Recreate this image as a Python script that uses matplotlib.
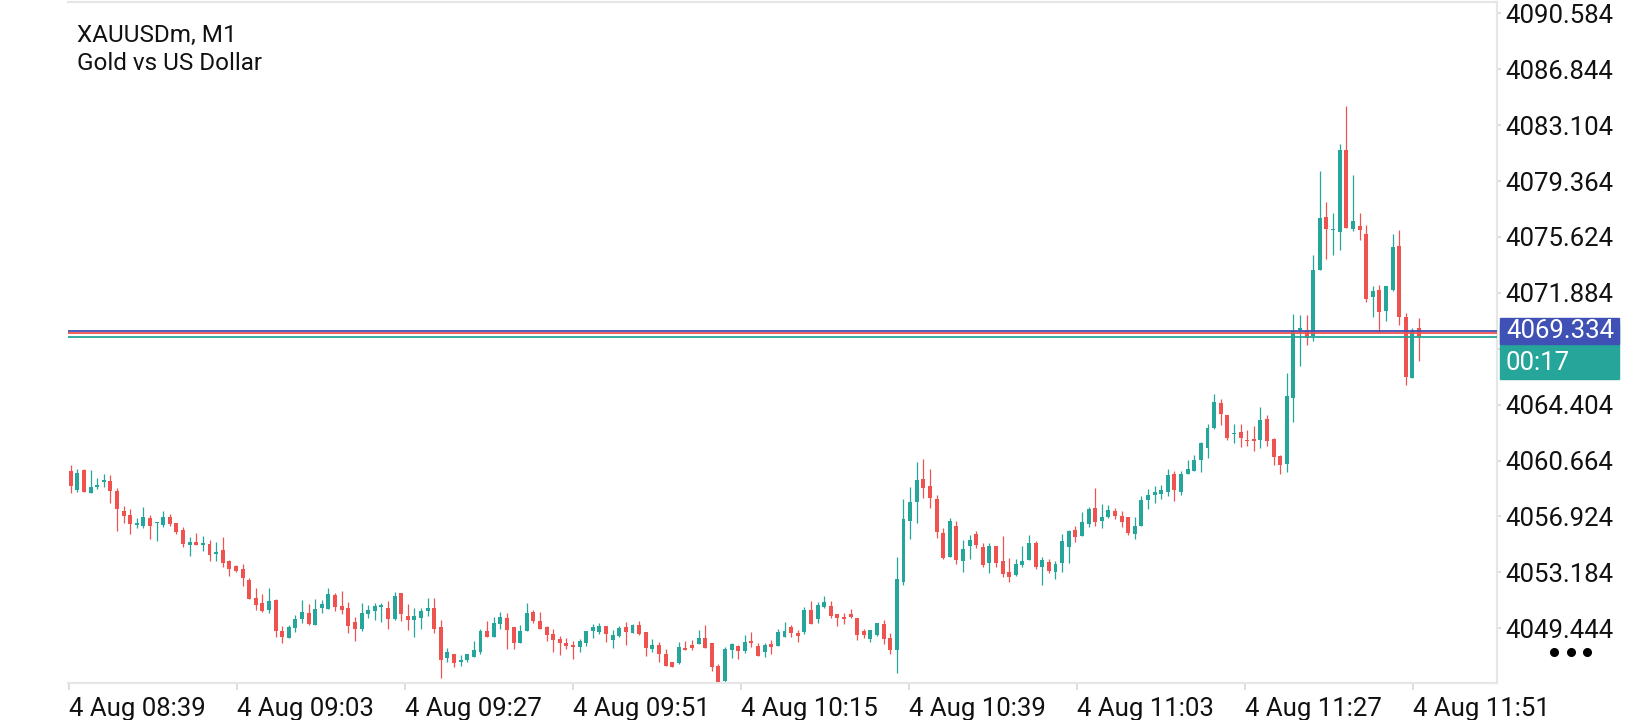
import numpy as np
import matplotlib.pyplot as plt
from matplotlib.patches import Rectangle
from matplotlib.lines import Line2D

plt.rcParams['font.family'] = ['Roboto', 'DejaVu Sans']

# XAUUSDm M1 candles (oldest first)
opens = [4059.98, 4058.69, 4060.03, 4058.51, 4058.91, 4059.24, 4059.29, 4058.62, 4057.28, 4057.02,
         4056.37, 4056.28, 4056.82, 4056.46, 4056.37, 4056.86, 4056.48, 4056.01, 4055.03, 4055.21,
         4055.03, 4055.08, 4054.43, 4054.67, 4053.96, 4053.60, 4053.40, 4052.67, 4051.46, 4051.13,
         4050.66, 4051.33, 4049.26, 4048.82, 4049.48, 4050.08, 4050.46, 4049.68, 4050.82, 4050.75,
         4051.69, 4050.91, 4050.79, 4049.86, 4049.37, 4050.42, 4050.59, 4050.88, 4050.79, 4050.04,
         4051.80, 4050.26, 4049.99, 4050.15, 4050.61, 4050.79, 4049.52, 4047.47, 4047.72, 4047.16,
         4047.29, 4047.49, 4047.87, 4049.26, 4048.88, 4049.75, 4050.10, 4049.50, 4048.48, 4049.28,
         4050.53, 4049.93, 4049.52, 4049.06, 4048.72, 4048.45, 4048.30, 4048.21, 4048.48, 4049.26,
         4049.19, 4049.59, 4048.65, 4048.94, 4049.52, 4049.14, 4049.66, 4049.19, 4048.07, 4048.32,
         4047.72, 4047.16, 4047.14, 4048.12, 4048.30, 4048.41, 4048.77, 4048.43, 4046.89, 4045.91,
         4048.01, 4048.23, 4047.94, 4048.61, 4048.25, 4047.87, 4048.39, 4048.28, 4048.88, 4049.52,
         4049.12, 4049.19, 4050.64, 4050.06, 4050.84, 4050.93, 4050.37, 4050.17, 4050.39, 4050.10,
         4049.26, 4048.74, 4048.99, 4049.70, 4048.80, 4048.00, 4052.56, 4056.64, 4057.91, 4059.43,
         4058.96, 4058.09, 4055.82, 4054.23, 4056.31, 4053.97, 4054.97, 4055.75, 4054.88, 4053.83,
         4054.95, 4053.94, 4053.21, 4053.01, 4053.70, 4054.03, 4055.17, 4053.56, 4053.88, 4053.23,
         4053.83, 4054.90, 4056.02, 4055.64, 4056.42, 4057.51, 4056.64, 4056.91, 4057.29, 4056.95,
         4056.89, 4055.77, 4056.31, 4058.05, 4058.38, 4058.45, 4058.58, 4059.76, 4058.56, 4059.79,
         4059.99, 4060.72, 4061.53, 4062.84, 4064.51, 4063.71, 4062.46, 4062.57, 4062.04, 4062.11,
         4062.04, 4063.44, 4062.11, 4060.97, 4060.46, 4064.87, 4069.42, 4069.40, 4069.00, 4073.41,
         4076.96, 4076.11, 4075.98, 4081.44, 4076.18, 4076.36, 4075.82, 4071.63, 4072.07, 4070.69,
         4072.07, 4075.02, 4070.24, 4066.21, 4069.51]
highs = [4060.36, 4060.09, 4060.07, 4060.03, 4059.47, 4059.76, 4059.69, 4058.80, 4057.62, 4057.40,
         4056.80, 4057.55, 4057.02, 4056.55, 4057.28, 4057.06, 4056.48, 4056.19, 4055.52, 4055.81,
         4055.59, 4055.34, 4055.21, 4055.52, 4054.01, 4053.67, 4053.72, 4052.80, 4052.11, 4051.73,
         4052.11, 4051.38, 4049.59, 4049.66, 4050.33, 4051.31, 4051.06, 4051.38, 4051.33, 4052.11,
         4051.78, 4051.91, 4051.18, 4050.17, 4051.11, 4050.99, 4051.15, 4051.15, 4051.24, 4051.85,
         4051.80, 4051.06, 4050.79, 4050.77, 4051.44, 4051.46, 4050.00, 4048.12, 4047.72, 4047.63,
         4047.70, 4048.59, 4049.37, 4049.95, 4050.19, 4050.53, 4050.46, 4049.50, 4049.64, 4051.13,
         4050.64, 4050.53, 4049.59, 4049.39, 4048.92, 4048.79, 4048.61, 4048.74, 4049.26, 4049.72,
         4049.81, 4049.59, 4049.32, 4049.57, 4049.86, 4049.75, 4049.95, 4049.19, 4048.70, 4048.52,
         4048.05, 4047.16, 4048.52, 4048.61, 4048.63, 4049.32, 4049.66, 4048.43, 4047.07, 4048.21,
         4048.48, 4048.30, 4048.99, 4049.19, 4048.43, 4048.48, 4048.65, 4049.37, 4049.88, 4049.64,
         4049.32, 4050.88, 4051.26, 4051.22, 4051.60, 4051.26, 4050.37, 4050.48, 4050.73, 4050.15,
         4049.41, 4049.32, 4049.77, 4050.00, 4049.10, 4054.21, 4058.09, 4058.87, 4060.57, 4060.77,
         4060.10, 4058.34, 4056.13, 4056.82, 4056.62, 4055.35, 4055.71, 4055.95, 4055.17, 4055.13,
         4054.95, 4055.64, 4054.17, 4054.08, 4054.95, 4055.71, 4055.26, 4054.23, 4054.08, 4053.97,
         4055.75, 4056.02, 4056.29, 4057.22, 4057.58, 4058.85, 4057.76, 4057.69, 4057.49, 4057.29,
         4056.89, 4056.89, 4058.29, 4058.76, 4058.96, 4059.03, 4060.10, 4059.96, 4059.96, 4060.70,
         4061.03, 4061.93, 4063.11, 4065.12, 4064.78, 4063.71, 4063.11, 4063.11, 4062.71, 4062.98,
         4064.25, 4063.71, 4062.17, 4061.03, 4066.52, 4070.47, 4070.40, 4070.40, 4074.41, 4080.03,
         4077.96, 4077.22, 4081.84, 4084.41, 4079.77, 4077.22, 4076.42, 4072.34, 4072.41, 4072.34,
         4075.82, 4076.09, 4070.51, 4069.51, 4070.18]
lows = [4058.47, 4058.58, 4058.58, 4058.51, 4058.74, 4058.91, 4057.80, 4055.97, 4056.50, 4055.77,
        4056.17, 4056.17, 4055.43, 4055.30, 4056.24, 4056.30, 4055.72, 4054.90, 4054.29, 4055.03,
        4054.63, 4053.96, 4053.96, 4053.52, 4052.96, 4053.22, 4052.29, 4051.42, 4050.66, 4050.55,
        4050.48, 4048.88, 4048.47, 4048.82, 4049.21, 4049.81, 4049.68, 4049.68, 4050.48, 4050.75,
        4050.59, 4050.37, 4049.14, 4048.61, 4049.28, 4050.11, 4049.99, 4049.86, 4049.39, 4049.99,
        4049.92, 4049.32, 4048.83, 4049.37, 4050.26, 4049.14, 4046.11, 4047.20, 4046.83, 4046.94,
        4047.16, 4047.49, 4047.74, 4048.88, 4048.88, 4049.41, 4048.05, 4048.07, 4048.48, 4049.28,
        4049.81, 4049.39, 4048.59, 4047.87, 4047.67, 4048.07, 4047.41, 4047.87, 4048.28, 4048.79,
        4049.03, 4048.52, 4048.14, 4048.86, 4048.34, 4049.14, 4048.99, 4047.61, 4047.83, 4047.18,
        4046.94, 4046.87, 4047.05, 4047.99, 4048.01, 4048.41, 4048.14, 4046.60, 4045.80, 4045.80,
        4047.47, 4047.41, 4047.76, 4048.21, 4047.61, 4047.54, 4047.74, 4048.28, 4048.88, 4048.88,
        4048.54, 4049.08, 4049.75, 4049.77, 4050.77, 4050.15, 4049.59, 4049.75, 4050.10, 4048.68,
        4048.81, 4048.54, 4048.92, 4048.40, 4047.70, 4046.45, 4052.34, 4055.39, 4056.46, 4058.18,
        4057.51, 4055.50, 4054.08, 4054.23, 4053.74, 4053.23, 4054.10, 4054.79, 4053.52, 4053.12,
        4053.56, 4052.85, 4052.52, 4052.96, 4053.56, 4054.03, 4053.43, 4052.34, 4053.16, 4052.74,
        4053.23, 4053.83, 4055.24, 4055.64, 4056.24, 4056.31, 4056.17, 4056.82, 4056.78, 4056.24,
        4055.71, 4055.44, 4056.31, 4057.44, 4057.85, 4058.11, 4058.31, 4057.98, 4058.36, 4059.79,
        4059.99, 4059.92, 4060.86, 4062.77, 4063.06, 4062.04, 4061.86, 4061.59, 4061.66, 4061.32,
        4061.53, 4061.66, 4060.39, 4059.76, 4059.92, 4063.26, 4067.01, 4068.39, 4068.68, 4073.41,
        4074.17, 4074.44, 4074.77, 4076.24, 4076.04, 4075.44, 4071.29, 4070.24, 4069.29, 4070.02,
        4072.01, 4069.73, 4065.72, 4066.16, 4067.35]
closes = [4058.96, 4059.85, 4058.58, 4058.87, 4059.02, 4059.36, 4058.64, 4057.44, 4056.97, 4056.43,
          4056.48, 4056.88, 4056.30, 4056.55, 4056.88, 4056.43, 4055.90, 4055.10, 4055.19, 4055.03,
          4055.12, 4054.34, 4054.54, 4053.83, 4053.42, 4053.29, 4052.82, 4051.42, 4051.02, 4050.59,
          4051.26, 4049.26, 4048.88, 4049.50, 4050.04, 4050.53, 4049.72, 4050.71, 4051.06, 4051.73,
          4050.88, 4050.66, 4049.61, 4049.39, 4050.46, 4050.64, 4050.91, 4051.02, 4050.08, 4051.60,
          4050.42, 4049.99, 4050.24, 4050.59, 4050.79, 4049.39, 4047.31, 4047.85, 4047.09, 4047.32,
          4047.70, 4047.99, 4049.26, 4048.88, 4049.79, 4050.19, 4049.32, 4048.48, 4049.26, 4050.48,
          4049.93, 4049.39, 4049.01, 4048.65, 4048.45, 4048.28, 4048.21, 4048.59, 4049.26, 4049.52,
          4049.59, 4049.08, 4048.99, 4049.43, 4049.21, 4049.66, 4049.06, 4048.14, 4048.32, 4047.70,
          4046.94, 4046.87, 4048.16, 4048.01, 4048.12, 4048.77, 4048.14, 4046.87, 4045.87, 4048.05,
          4048.36, 4047.94, 4048.52, 4048.48, 4047.61, 4048.30, 4048.21, 4049.17, 4049.26, 4049.14,
          4048.94, 4050.66, 4049.75, 4051.00, 4051.20, 4050.26, 4050.15, 4050.08, 4050.22, 4048.99,
          4048.99, 4049.32, 4049.77, 4048.70, 4048.00, 4052.73, 4056.75, 4057.89, 4059.36, 4058.85,
          4058.18, 4055.91, 4054.14, 4056.62, 4054.01, 4054.75, 4055.35, 4055.04, 4053.70, 4054.95,
          4053.83, 4053.10, 4052.90, 4053.74, 4053.94, 4055.17, 4053.56, 4053.99, 4053.27, 4053.74,
          4055.28, 4055.95, 4055.57, 4056.55, 4057.44, 4056.57, 4056.89, 4057.36, 4056.98, 4056.57,
          4055.84, 4056.29, 4058.02, 4058.36, 4058.56, 4058.69, 4059.70, 4058.69, 4059.76, 4060.10,
          4060.70, 4061.86, 4062.84, 4064.58, 4063.80, 4062.19, 4062.53, 4062.19, 4061.97, 4061.99,
          4063.38, 4061.99, 4060.92, 4060.39, 4064.98, 4069.35, 4069.51, 4068.84, 4073.41, 4076.89,
          4076.18, 4076.15, 4081.44, 4076.24, 4076.69, 4076.11, 4071.49, 4072.01, 4070.62, 4072.34,
          4074.95, 4070.29, 4066.28, 4069.40, 4068.95]

time_labels = ['4 Aug 08:39', '4 Aug 09:03', '4 Aug 09:27', '4 Aug 09:51', '4 Aug 10:15',
               '4 Aug 10:39', '4 Aug 11:03', '4 Aug 11:27', '4 Aug 11:51']
price_ticks = [4049.444, 4053.184, 4056.924, 4060.664, 4064.404, 4068.144,
               4071.884, 4075.624, 4079.364, 4083.104, 4086.844, 4090.584]
ask_price = 4069.334
mid_price = 4069.21
bid_price = 4068.95
timer = '00:17'

UP = '#26a69a'
DOWN = '#ef5350'
ASK = '#3f51b5'
GRID = '#e6e6e6'
W, H = 1640, 720
FS = 18.5

o = np.array(opens)
h = np.array(highs)
l = np.array(lows)
c = np.array(closes)
x = np.arange(len(o))
cols = np.where(c >= o, UP, DOWN)

fig = plt.figure(figsize=(W / 100, H / 100), dpi=100, facecolor='white')
ax = fig.add_axes([68 / W, 1 - 683 / H, (1497 - 68) / W, (683 - 2) / H])

ax.vlines(x, l, h, colors=cols, linewidth=0.9, zorder=2)
body = np.maximum(np.abs(c - o), 0.07)
ax.bar(x, body, bottom=np.minimum(o, c), width=0.6, color=cols, linewidth=0, zorder=3)

ax.axhline(ask_price, color=ASK, lw=1.3, zorder=4)
ax.axhline(mid_price, color=DOWN, lw=1.3, zorder=4)
ax.axhline(bid_price, color=UP, lw=1.3, zorder=4)

ax.set_xlim(-0.41, 215.8)
ax.set_ylim(4045.78, 4091.34)

# time labels every 24 minutes sit at the left edge of their bar
ax.set_xticks(np.arange(len(time_labels)) * 25.43 - 0.32)
ax.set_xticklabels(time_labels, ha='left', fontsize=FS, color='#111111')
ax.yaxis.tick_right()
ax.set_yticks(price_ticks)
# the label under the price boxes is covered in the app, so leave it blank
ylabels = ['' if abs(p - bid_price) < 1.5 else '%.3f' % p for p in price_ticks]
ax.set_yticklabels(ylabels, fontsize=FS, color='#111111')
ax.tick_params(axis='x', length=5, width=1.2, color='#d8d8d8', pad=5)
ax.tick_params(axis='y', length=3, width=1.2, color='#d8d8d8', pad=3)

ax.spines['left'].set_visible(False)
for s in ['top', 'right', 'bottom']:
    ax.spines[s].set_color(GRID)
    ax.spines[s].set_linewidth(1.6)

ax.text(9 / 1429, (683 - 42) / 681, 'XAUUSDm, M1', transform=ax.transAxes,
        fontsize=17.5, va='baseline', color='#111111')
ax.text(9 / 1429, (683 - 70) / 681, 'Gold vs US Dollar', transform=ax.transAxes,
        fontsize=17.5, va='baseline', color='#111111')

# price labels on the right scale
to_fig = fig.transFigure.inverted()
ya = to_fig.transform(ax.transData.transform((0, ask_price)))[1]
yb = to_fig.transform(ax.transData.transform((0, bid_price)))[1]
bx0, bw = 1500 / W, 119 / W
fig.add_artist(Rectangle((bx0, yb - 42 / H), bw, 55 / H, transform=fig.transFigure,
                         color=UP, zorder=5))
fig.text(1506 / W, yb - 26 / H, timer, color='white', fontsize=FS, va='center', zorder=6)
fig.add_artist(Rectangle((bx0, ya - 13 / H), bw, 26 / H, transform=fig.transFigure,
                         color=ASK, zorder=7))
fig.text(1506 / W, ya, '%.3f' % ask_price, color='white', fontsize=FS, va='center', zorder=8)

# menu dots
fig.add_artist(Line2D([1554 / W, 1571 / W, 1587 / W], [1 - 652 / H] * 3, transform=fig.transFigure,
                      linestyle='none', marker='o', markersize=5.5, color='black'))

fig.savefig('out.png', dpi=100, facecolor='white')
